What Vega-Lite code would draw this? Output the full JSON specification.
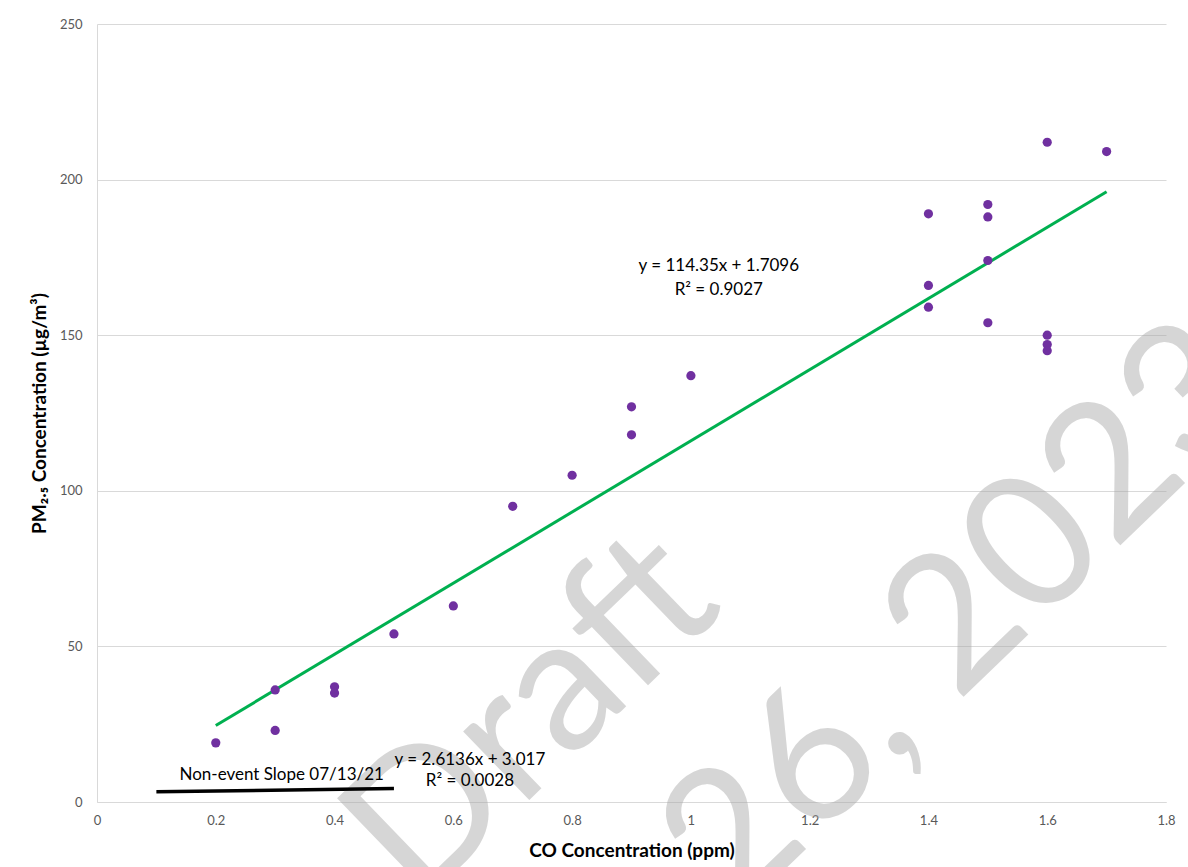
{
  "$schema": "https://vega.github.io/schema/vega-lite/v6.json",
  "width": 1069,
  "height": 778,
  "autosize": {"type": "none"},
  "padding": {"left": 97, "top": 24, "right": 22, "bottom": 65},
  "background": "white",
  "config": {
    "view": {"stroke": null},
    "font": "Lato",
    "axis": {
      "labelFont": "Lato",
      "labelColor": "#595959",
      "labelFontSize": 13,
      "titleFont": "Lato",
      "titleFontWeight": "bold",
      "titleFontSize": 19,
      "titleColor": "#000000",
      "domainColor": "#d9d9d9",
      "gridColor": "#d9d9d9",
      "ticks": false
    }
  },
  "datasets": {
    "samples": [
      {"co": 0.2, "pm": 19}, {"co": 0.3, "pm": 36}, {"co": 0.3, "pm": 23},
      {"co": 0.4, "pm": 37}, {"co": 0.4, "pm": 35}, {"co": 0.5, "pm": 54},
      {"co": 0.6, "pm": 63}, {"co": 0.7, "pm": 95}, {"co": 0.8, "pm": 105},
      {"co": 0.9, "pm": 127}, {"co": 0.9, "pm": 118}, {"co": 1.0, "pm": 137},
      {"co": 1.4, "pm": 189}, {"co": 1.4, "pm": 166}, {"co": 1.4, "pm": 159},
      {"co": 1.5, "pm": 192}, {"co": 1.5, "pm": 188}, {"co": 1.5, "pm": 174},
      {"co": 1.5, "pm": 154}, {"co": 1.6, "pm": 212}, {"co": 1.6, "pm": 150},
      {"co": 1.6, "pm": 147}, {"co": 1.6, "pm": 145}, {"co": 1.7, "pm": 209}
    ],
    "eventFit": [{"co": 0.2, "pm": 24.58}, {"co": 1.7, "pm": 196.1}],
    "nonEventFit": [{"co": 0.1, "pm": 3.278}, {"co": 0.5, "pm": 4.324}],
    "notes": [
      {"co": 1.047, "pm": 172.2, "label": "y = 114.35x + 1.7096"},
      {"co": 1.047, "pm": 164.5, "label": "R² = 0.9027"},
      {"co": 0.311, "pm": 8.7, "label": "Non-event Slope 07/13/21"},
      {"co": 0.628, "pm": 13.5, "label": "y = 2.6136x + 3.017"},
      {"co": 0.628, "pm": 6.7, "label": "R² = 0.0028"}
    ],
    "stamp": [
      {"co": 0.735, "pm": 27, "label": "Draft"},
      {"co": 1.46, "pm": 59, "label": "26, 2023"}
    ]
  },
  "encoding": {
    "x": {
      "field": "co", "type": "quantitative",
      "scale": {"domain": [0, 1.8], "nice": false, "zero": false},
      "axis": {"title": "CO Concentration (ppm)", "values": [0, 0.2, 0.4, 0.6, 0.8, 1, 1.2, 1.4, 1.6, 1.8], "format": "~g", "grid": false, "labelPadding": 12, "titlePadding": 14, "labelFlush": false}
    },
    "y": {
      "field": "pm", "type": "quantitative",
      "scale": {"domain": [0, 250], "nice": false},
      "axis": {"title": "PM₂.₅ Concentration (µg/m³)", "values": [0, 50, 100, 150, 200, 250], "grid": true, "labelPadding": 15, "titlePadding": 10}
    }
  },
  "layer": [
    {
      "data": {"values": [{}]},
      "mark": {"type": "rect", "fill": null, "stroke": "#d9d9d9", "strokeWidth": 1.5},
      "encoding": {
        "x": {"datum": -0.153, "type": "quantitative"},
        "x2": {"datum": 1.828},
        "y": {"datum": 256.1, "type": "quantitative"},
        "y2": {"datum": -40}
      }
    },
    {
      "data": {"name": "stamp"},
      "mark": {"type": "text", "font": "Lato", "fontSize": 188, "angle": -44, "align": "center", "baseline": "middle", "color": "#a6a6a6", "opacity": 0.45},
      "encoding": {"text": {"field": "label"}}
    },
    {
      "data": {"name": "eventFit"},
      "mark": {"type": "line", "color": "#00B050", "strokeWidth": 3},
      "encoding": {}
    },
    {
      "data": {"name": "nonEventFit"},
      "mark": {"type": "line", "color": "#000000", "strokeWidth": 3.5},
      "encoding": {}
    },
    {
      "data": {"name": "samples"},
      "mark": {"type": "circle", "color": "#7030A0", "opacity": 1, "size": 85},
      "encoding": {}
    },
    {
      "data": {"name": "notes"},
      "mark": {"type": "text", "font": "Lato", "fontSize": 17, "align": "center", "baseline": "middle", "color": "#000000"},
      "encoding": {"text": {"field": "label"}}
    }
  ]
}
